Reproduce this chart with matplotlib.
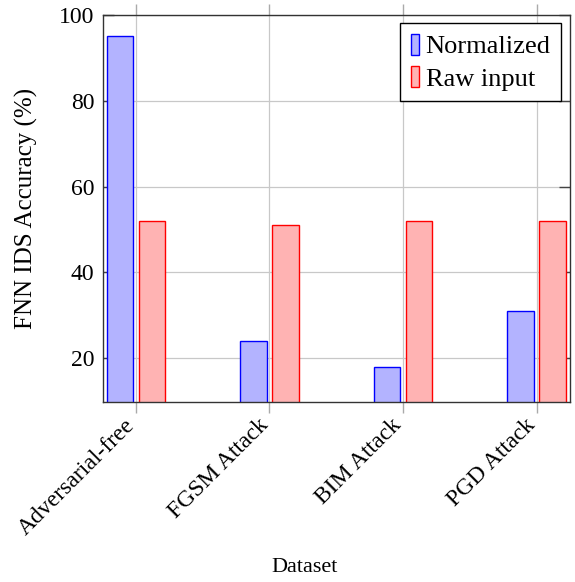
import matplotlib
matplotlib.use("Agg")
import matplotlib.pyplot as plt
import matplotlib.transforms as mtransforms
import numpy as np

categories = ["Adversarial-free", "FGSM Attack", "BIM Attack", "PGD Attack"]
normalized = [95, 24, 18, 31]
raw_input = [52, 51, 52, 52]
series_labels = ["Normalized", "Raw input"]
yticks = [20, 40, 60, 80, 100]

plt.rcParams['font.family'] = ['Liberation Serif', 'DejaVu Serif']

fig = plt.figure(figsize=(5.75, 5.82), dpi=100)
ax = fig.add_axes([0.1783, 0.3088, 0.8130, 0.6654])

x = np.arange(len(categories))
w = 0.2
off = 0.12
ax.bar(x - off, normalized, w, bottom=0, color='#b3b3ff', edgecolor='#0000ff', linewidth=1.0,
       label=series_labels[0], zorder=3)
ax.bar(x + off, raw_input, w, bottom=0, color='#ffb3b3', edgecolor='#ff0000', linewidth=1.0,
       label=series_labels[1], zorder=3)

ax.set_xlim(-0.25, 3.25)
ax.set_ylim(9.75, 100)
ax.set_yticks(yticks)
ax.set_xticks(x)
ax.tick_params(axis='x', which='both', direction='out', length=8, width=1, color='#aaaaaa',
               top=True, bottom=True, pad=3)
ax.tick_params(axis='y', direction='in', length=8, width=1, color='#444444', left=True, right=True,
               labelsize=17, pad=6)
ax.set_xticklabels(categories, rotation=45, ha='right', va='top', rotation_mode='anchor', fontsize=17)
shift = mtransforms.ScaledTranslation(-12 / 100, 3 / 100, fig.dpi_scale_trans)
for lbl in ax.get_xticklabels():
    lbl.set_transform(lbl.get_transform() + shift)
ax.grid(True, color='#c8c8c8', linewidth=0.9, zorder=0)
ax.set_axisbelow(True)
for s in ax.spines.values():
    s.set_color('#333333')
    s.set_linewidth(1.0)
    s.set_zorder(4)

ax.set_ylabel("FNN IDS Accuracy (%)", fontsize=18, labelpad=15)
ax.set_xlabel("Dataset", fontsize=16, va='center')
ax.xaxis.set_label_coords(0.433, -0.426)

leg = ax.legend(loc='upper right', bbox_to_anchor=(0.981, 0.979), fontsize=19, frameon=True,
                fancybox=False, edgecolor='black', framealpha=1, handlelength=0.3,
                handleheight=0.85, handletextpad=0.25, borderpad=0.4, labelspacing=0.3,
                borderaxespad=0)
leg.get_frame().set_linewidth(1.0)
leg.set_zorder(5)

fig.savefig("out.png", dpi=100)
